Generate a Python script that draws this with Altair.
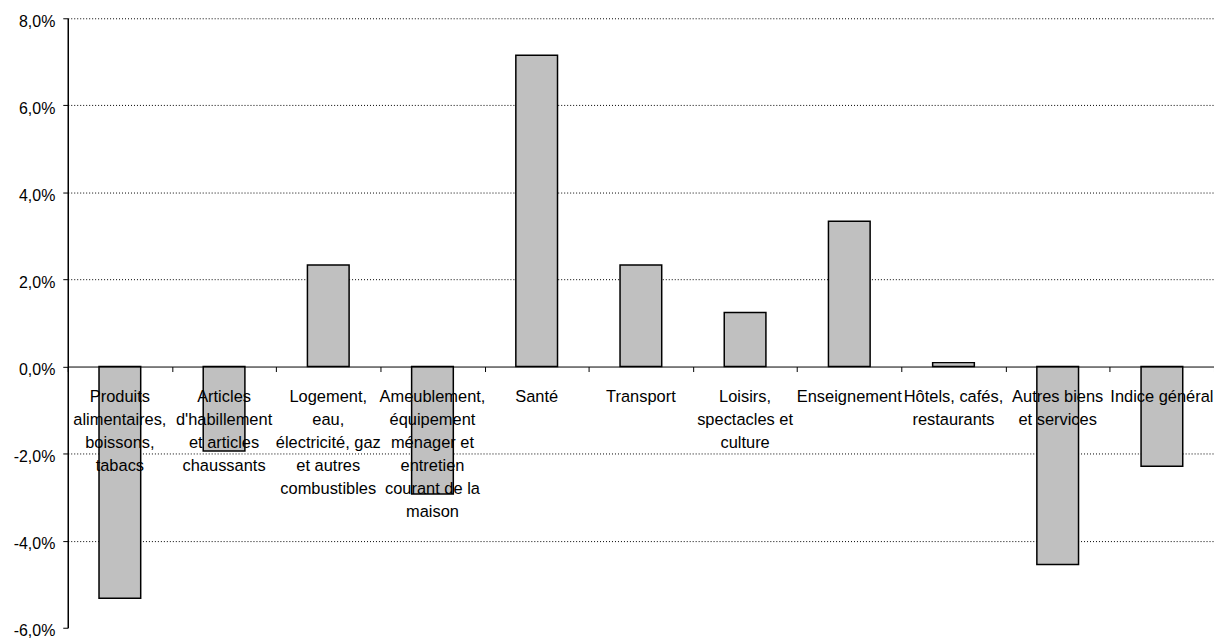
import altair as alt
import pandas as pd

categories = [
    "Produits alimentaires, boissons, tabacs",
    "Articles d'habillement et articles chaussants",
    "Logement, eau, électricité, gaz et autres combustibles",
    "Ameublement, équipement ménager et entretien courant de la maison",
    "Santé",
    "Transport",
    "Loisirs, spectacles et culture",
    "Enseignement",
    "Hôtels, cafés, restaurants",
    "Autres biens et services",
    "Indice général",
]
label_lines = [
    "Produits\nalimentaires,\nboissons,\ntabacs",
    "Articles\nd'habillement\net articles\nchaussants",
    "Logement,\neau,\nélectricité, gaz\net autres\ncombustibles",
    "Ameublement,\néquipement\nménager et\nentretien\ncourant de la\nmaison",
    "Santé",
    "Transport",
    "Loisirs,\nspectacles et\nculture",
    "Enseignement",
    "Hôtels, cafés,\nrestaurants",
    "Autres biens\net services",
    "Indice général",
]
values = [-5.32, -1.94, 2.33, -2.93, 7.15, 2.33, 1.24, 3.34, 0.09, -4.55, -2.29]
y_ticks = [-6, -4, -2, 0, 2, 4, 6, 8]

df = pd.DataFrame({"cat": categories, "label": label_lines, "val": values})

FONT = "Liberation Sans"
W, H = 1151, 612
zero_off = -(H - H * 8 / 14)

x_enc = alt.X(
    "cat:N",
    sort=categories,
    scale=alt.Scale(paddingInner=0, paddingOuter=0),
    axis=alt.Axis(
        title=None,
        labels=False,
        orient="bottom",
        offset=zero_off,
        tickBand="extent",
        tickSize=5,
        tickColor="black",
        domainColor="black",
        domainWidth=1,
        tickWidth=1,
        zindex=1,
    ),
)
y_enc = alt.Y(
    "val:Q",
    scale=alt.Scale(domain=[-6, 8], nice=False),
    axis=alt.Axis(
        title=None,
        values=y_ticks,
        labelExpr="replace(replace(format(datum.value, '.1f'), '.', ','), '\u2212', '-') + '%'",
        labelFont=FONT,
        labelFontSize=16,
        labelColor="black",
        labelPadding=8,
        labelOffset=3,
        tickSize=5,
        tickColor="black",
        domainColor="black",
        domainWidth=1.5,
        grid=True,
        gridColor="black",
        gridDash=[1, 2],
        gridWidth=1,
        gridOpacity={"condition": {"test": "datum.value == -6 || datum.value == 0", "value": 0}, "value": 1},
    ),
)

bars = alt.Chart(df).mark_bar(
    width=alt.RelativeBandSize(0.4), color="#C0C0C0", stroke="black", strokeWidth=1.5
).encode(x=x_enc, y=y_enc)

labels = alt.Chart(df).mark_text(
    font=FONT, fontSize=16.5, lineHeight=23, baseline="top", align="center", dy=23, lineBreak="\n", color="black"
).encode(
    x=alt.X("cat:N", sort=categories),
    y=alt.datum(0),
    text="label:N",
)

chart = alt.layer(bars, labels).properties(
    width=W,
    height=H,
    autosize=alt.AutoSizeParams(type="none"),
    padding={"left": 60, "top": 9, "right": 0, "bottom": 12},
).configure_view(stroke=None).configure_axis(labelFont=FONT)

chart.save("out.html", embed_options={"renderer": "svg", "actions": False})
